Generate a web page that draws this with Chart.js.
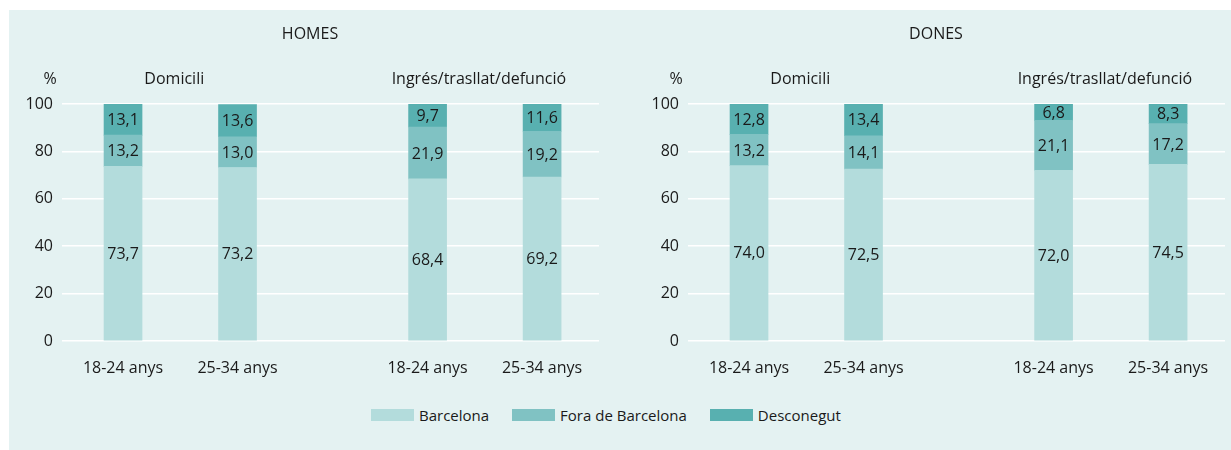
<!DOCTYPE html>
<html lang="ca">
<head>
<meta charset="UTF-8">
<title>Homes i dones per lloc</title>
<script src="https://cdn.jsdelivr.net/npm/chart.js"></script>
<style>
  body, html { margin: 0; padding: 0; background: #fff; font-family: 'Open Sans', sans-serif; }
  .panel-bg { position: absolute; left: 9px; top: 10px; width: 1222px; height: 440px; background: #e4f2f2; }
  .chart-box { position: absolute; top: 10px; width: 596px; height: 370px; }
  #homesBox { left: 9px; }
  #donesBox { left: 635px; }
  .legend { position: absolute; left: 371px; top: 403px; display: flex; gap: 23px; font-size: 15px; font-weight: 500; color: #1a1a1a; }
  .legend-item { display: flex; align-items: center; gap: 5px; line-height: 24px; }
  .legend-box { width: 43px; height: 12px; display: inline-block; }
</style>
</head>
<body>
<div class="panel-bg"></div>
<div class="chart-box" id="homesBox"><canvas id="homesChart" width="596" height="370"></canvas></div>
<div class="chart-box" id="donesBox"><canvas id="donesChart" width="596" height="370"></canvas></div>
<div class="legend" id="legend"></div>
<script>
// categories
const ages = ['18-24 anys', '25-34 anys'];
const groups = ['Domicili', 'Ingrés/trasllat/defunció'];
const seriesNames = ['Barcelona', 'Fora de Barcelona', 'Desconegut'];
const yTicks = [0, 20, 40, 60, 80, 100];

// bar order: Domicili 18-24, Domicili 25-34, Ingrés 18-24, Ingrés 25-34
const homesBarcelona   = [73.7, 73.2, 68.4, 69.2];
const homesFora        = [13.2, 13.0, 21.9, 19.2];
const homesDesconegut  = [13.1, 13.6, 9.7, 11.6];
const donesBarcelona   = [74.0, 72.5, 72.0, 74.5];
const donesFora        = [13.2, 14.1, 21.1, 17.2];
const donesDesconegut  = [12.8, 13.4, 6.8, 8.3];

const colors = ['#b3dcdc', '#80c2c3', '#58b0b0'];
const textColor = '#1a1a1a';
const FONT = "'Open Sans', sans-serif";
const groupStep = 2.66;

// x positions of bars, built from group / age index
const xPos = [];
const xLab = [];
groups.forEach((g, gi) => ages.forEach((a, ai) => { xPos.push(gi * groupStep + ai); xLab.push(a); }));

function fmt(v) { return v.toFixed(1).replace('.', ','); }

const headerPlugin = {
  id: 'headers',
  afterDraw(chart) {
    const ctx = chart.ctx;
    const x = chart.scales.x;
    ctx.save();
    ctx.fillStyle = textColor;
    ctx.font = '500 16px ' + FONT;
    ctx.textBaseline = 'middle';
    ctx.textAlign = 'center';
    ctx.fillText(chart.options.plugins.headers.title, chart.width / 2 + 3, 24);
    ctx.fillText('%', 41, 69);
    groups.forEach((g, gi) => {
      const mid = (x.getPixelForValue(gi * groupStep) + x.getPixelForValue(gi * groupStep + 1)) / 2;
      ctx.fillText(g, mid - 6, 69);
    });
    // value labels in each segment
    chart.data.datasets.forEach((ds, di) => {
      chart.getDatasetMeta(di).data.forEach((bar, i) => {
        ctx.fillText(fmt(ds.data[i].y), bar.x, (bar.y + bar.base) / 2 + 1);
      });
    });
    ctx.restore();
  }
};

function makeChart(id, title, values) {
  new Chart(document.getElementById(id), {
    type: 'bar',
    data: {
      datasets: seriesNames.map((name, si) => ({
        label: name,
        data: values[si].map((v, i) => ({ x: xPos[i], y: v })),
        backgroundColor: colors[si],
        barThickness: 38
      }))
    },
    options: {
      responsive: false,
      animation: false,
      layout: { padding: { top: 94, bottom: 0, left: 0, right: 6 } },
      plugins: {
        legend: { display: false },
        tooltip: { enabled: false },
        headers: { title: title }
      },
      scales: {
        x: {
          type: 'linear',
          stacked: true,
          offset: false,
          min: -0.533,
          max: 4.157,
          grid: { display: false },
          border: { display: false },
          afterBuildTicks: s => { s.ticks = xPos.map(v => ({ value: v })); },
          afterFit: s => { s.height = 39; },
          ticks: {
            autoSkip: false,
            maxRotation: 0,
            padding: 10,
            color: textColor,
            font: { family: FONT, size: 16, weight: 500 },
            callback: (v, i) => xLab[i]
          }
        },
        y: {
          stacked: true,
          min: 0,
          max: 100,
          grid: { color: '#ffffff', lineWidth: 1.5, drawTicks: false },
          border: { display: false },
          afterBuildTicks: s => { s.ticks = yTicks.map(v => ({ value: v })); },
          afterFit: s => { s.width = 53; },
          ticks: {
            padding: 9,
            color: textColor,
            font: { family: FONT, size: 16, weight: 500 }
          }
        }
      }
    },
    plugins: [headerPlugin]
  });
}

makeChart('homesChart', 'HOMES', [homesBarcelona, homesFora, homesDesconegut]);
makeChart('donesChart', 'DONES', [donesBarcelona, donesFora, donesDesconegut]);

// legend
const legend = document.getElementById('legend');
seriesNames.forEach((name, i) => {
  const item = document.createElement('div');
  item.className = 'legend-item';
  item.innerHTML = '<span class="legend-box" style="background:' + colors[i] + '"></span>' + name;
  legend.appendChild(item);
});
</script>
</body>
</html>
